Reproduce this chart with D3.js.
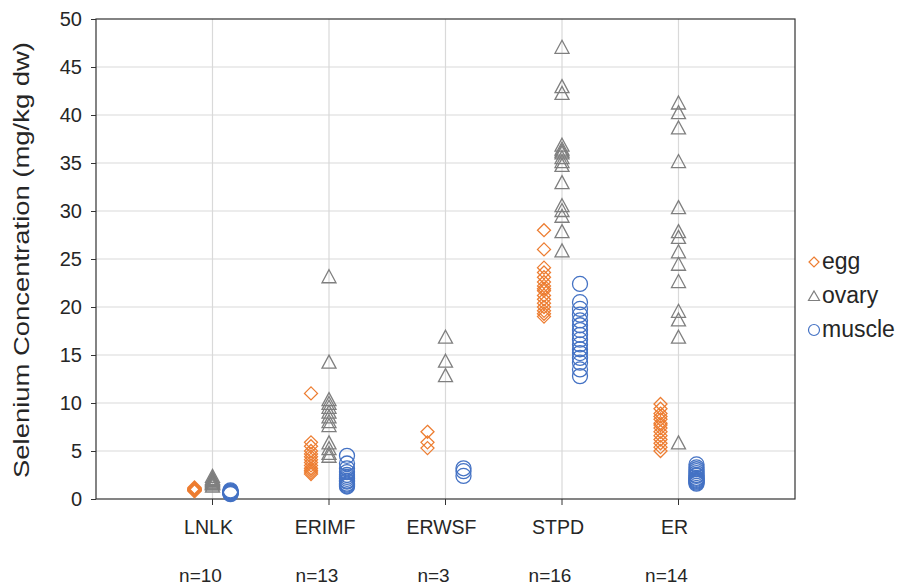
<!DOCTYPE html>
<html>
<head>
<meta charset="utf-8">
<script src="https://cdn.jsdelivr.net/npm/d3@7"></script>
<style>
  body { margin: 0; background: #fff; }
  text { font-family: "Liberation Sans", Arial, sans-serif; fill: #262626; }
</style>
</head>
<body>
<svg id="chart" width="904" height="586"></svg>
<script>
// values (mg/kg dw), one inner list per site
var sites = ["LNLK", "ERIMF", "ERWSF", "STPD", "ER"];
var nLabels = ["n=10", "n=13", "n=3", "n=16", "n=14"];
var yTicks = [0, 5, 10, 15, 20, 25, 30, 35, 40, 45, 50];

var egg = [
    [0.8, 0.9, 0.9, 1.0, 1.0, 1.0, 1.1, 1.1, 1.2, 0.9],
    [11.0, 5.9, 5.5, 5.0, 4.7, 4.4, 4.1, 3.8, 3.5, 3.2, 3.0, 2.8, 2.6],
    [7.0, 5.9, 5.3],
    [28.0, 26.0, 24.1, 23.6, 23.1, 22.6, 22.2, 21.9, 21.7, 21.2, 20.8, 20.4, 20.0, 19.6, 19.3, 19.0],
    [9.9, 9.4, 8.9, 8.6, 8.3, 7.9, 7.7, 7.4, 7.0, 6.6, 6.2, 5.8, 5.4, 5.0]
];
var ovary = [
    [1.3, 1.5, 1.6, 1.6, 1.7, 1.8, 1.9, 2.0, 2.1, 2.3],
    [23.1, 14.2, 10.3, 9.9, 9.5, 9.0, 8.5, 8.0, 7.6, 5.8, 5.2, 4.7, 4.4],
    [16.8, 14.3, 12.8],
    [47.0, 42.9, 42.2, 36.8, 36.4, 36.2, 36.0, 35.5, 35.1, 34.7, 32.9, 30.5, 30.0, 29.4, 27.8, 25.8],
    [41.2, 40.2, 38.6, 35.1, 30.3, 27.8, 27.2, 25.7, 24.4, 22.6, 19.5, 18.6, 16.8, 5.8]
];
var muscle = [
    [0.5, 0.6, 0.6, 0.7, 0.7, 0.8, 0.8, 0.6, 0.7, 0.9],
    [4.5, 3.7, 3.2, 2.8, 2.5, 2.3, 2.1, 1.9, 1.8, 1.6, 1.5, 1.4, 1.3],
    [3.2, 2.9, 2.4],
    [22.4, 20.5, 19.8, 19.2, 18.6, 18.1, 17.6, 17.1, 16.6, 16.1, 15.6, 15.2, 14.7, 14.2, 13.5, 12.8],
    [3.6, 3.3, 3.1, 2.9, 2.7, 2.5, 2.4, 2.2, 2.1, 2.0, 1.9, 1.8, 1.7, 1.6]
];

var plotLeft = 96, plotRight = 795, plotTop = 19, plotBottom = 499;
var svg = d3.select("#chart");

var x = d3.scaleLinear().domain([0, sites.length + 1]).range([plotLeft, plotRight]);
var y = d3.scaleLinear().domain([0, 50]).range([plotBottom, plotTop]);

// grid
svg.append("g").selectAll("line.hgrid").data(yTicks.slice(1, -1))
    .enter().append("line")
    .attr("x1", plotLeft).attr("x2", plotRight)
    .attr("y1", function(d) { return y(d); }).attr("y2", function(d) { return y(d); })
    .attr("stroke", "#d9d9d9").attr("stroke-width", 1.2);
svg.append("g").selectAll("line.vgrid").data(sites)
    .enter().append("line")
    .attr("x1", function(d, i) { return x(i + 1); }).attr("x2", function(d, i) { return x(i + 1); })
    .attr("y1", plotTop).attr("y2", plotBottom)
    .attr("stroke", "#d9d9d9").attr("stroke-width", 1.2);

// frame
svg.append("rect").attr("x", plotLeft).attr("y", plotTop)
    .attr("width", plotRight - plotLeft).attr("height", plotBottom - plotTop)
    .attr("fill", "none").attr("stroke", "#333").attr("stroke-width", 1.2);

// y axis
var yAxis = d3.axisLeft(y).tickValues(yTicks).tickSize(5).tickPadding(9);
var gy = svg.append("g").attr("transform", "translate(" + plotLeft + ",0)").call(yAxis);
gy.select(".domain").remove();
gy.selectAll("line").attr("stroke", "#333");
gy.selectAll("text").style("font-size", "20px").style("font-family", "Liberation Sans, Arial, sans-serif").attr("fill", "#262626");

// x ticks
svg.append("g").selectAll("line.xt").data(sites)
    .enter().append("line")
    .attr("x1", function(d, i) { return x(i + 1); }).attr("x2", function(d, i) { return x(i + 1); })
    .attr("y1", plotBottom).attr("y2", plotBottom + 6)
    .attr("stroke", "#333");

svg.append("g").selectAll("text.site").data(sites)
    .enter().append("text")
    .attr("x", function(d, i) { return x(i + 1) - 4; }).attr("y", 534)
    .attr("text-anchor", "middle").style("font-size", "19.5px")
    .text(function(d) { return d; });
svg.append("g").selectAll("text.n").data(nLabels)
    .enter().append("text")
    .attr("x", function(d, i) { return x(i + 1) - 12; }).attr("y", 582)
    .attr("text-anchor", "middle").style("font-size", "19px")
    .text(function(d) { return d; });

// y title
svg.append("text")
    .attr("transform", "translate(29,260) rotate(-90)")
    .attr("text-anchor", "middle").style("font-size", "22px")
    .attr("textLength", 436).attr("lengthAdjust", "spacingAndGlyphs")
    .text("Selenium Concentration (mg/kg dw)");

// markers
var diamond = "M0,-6.5L6.5,0L0,6.5L-6.5,0Z";
var triangle = "M0,-7.5L7,5.5L-7,5.5Z";
var series = [
    { name: "egg", data: egg, dx: -18, color: "#ED7D31", shape: diamond },
    { name: "ovary", data: ovary, dx: 0, color: "#7F7F7F", shape: triangle },
    { name: "muscle", data: muscle, dx: 18, color: "#4472C4", shape: null }
];

series.forEach(function(s) {
    var pts = [];
    s.data.forEach(function(vals, i) {
        vals.forEach(function(v) { pts.push([i, v]); });
    });
    var g = svg.append("g").attr("class", "series-" + s.name);
    if (s.shape) {
        g.selectAll("path").data(pts).enter().append("path")
            .attr("d", s.shape)
            .attr("transform", function(d) { return "translate(" + (x(d[0] + 1) + s.dx) + "," + y(d[1]) + ")"; })
            .attr("fill", "none").attr("stroke", s.color).attr("stroke-width", 1.3);
    } else {
        g.selectAll("circle").data(pts).enter().append("circle")
            .attr("cx", function(d) { return x(d[0] + 1) + s.dx; })
            .attr("cy", function(d) { return y(d[1]); })
            .attr("r", 7.5)
            .attr("fill", "none").attr("stroke", s.color).attr("stroke-width", 1.3);
    }
});

// legend
var legend = svg.append("g").attr("transform", "translate(814,262)");
var legItems = legend.selectAll("g").data(series).enter().append("g")
    .attr("transform", function(d, i) { return "translate(0," + (i * 34) + ")"; });
legItems.each(function(s) {
    var g = d3.select(this);
    if (s.shape === diamond) {
        g.append("path").attr("d", "M0,-5L5,0L0,5L-5,0Z").attr("fill", "none").attr("stroke", s.color).attr("stroke-width", 1.2);
    } else if (s.shape === triangle) {
        g.append("path").attr("d", "M0,-5L5.5,4.5L-5.5,4.5Z").attr("fill", "none").attr("stroke", s.color).attr("stroke-width", 1.2);
    } else {
        g.append("circle").attr("r", 5.5).attr("fill", "none").attr("stroke", s.color).attr("stroke-width", 1.2);
    }
    g.append("text").attr("x", 8).attr("y", 7).style("font-size", "23px").text(s.name);
});
</script>
</body>
</html>
